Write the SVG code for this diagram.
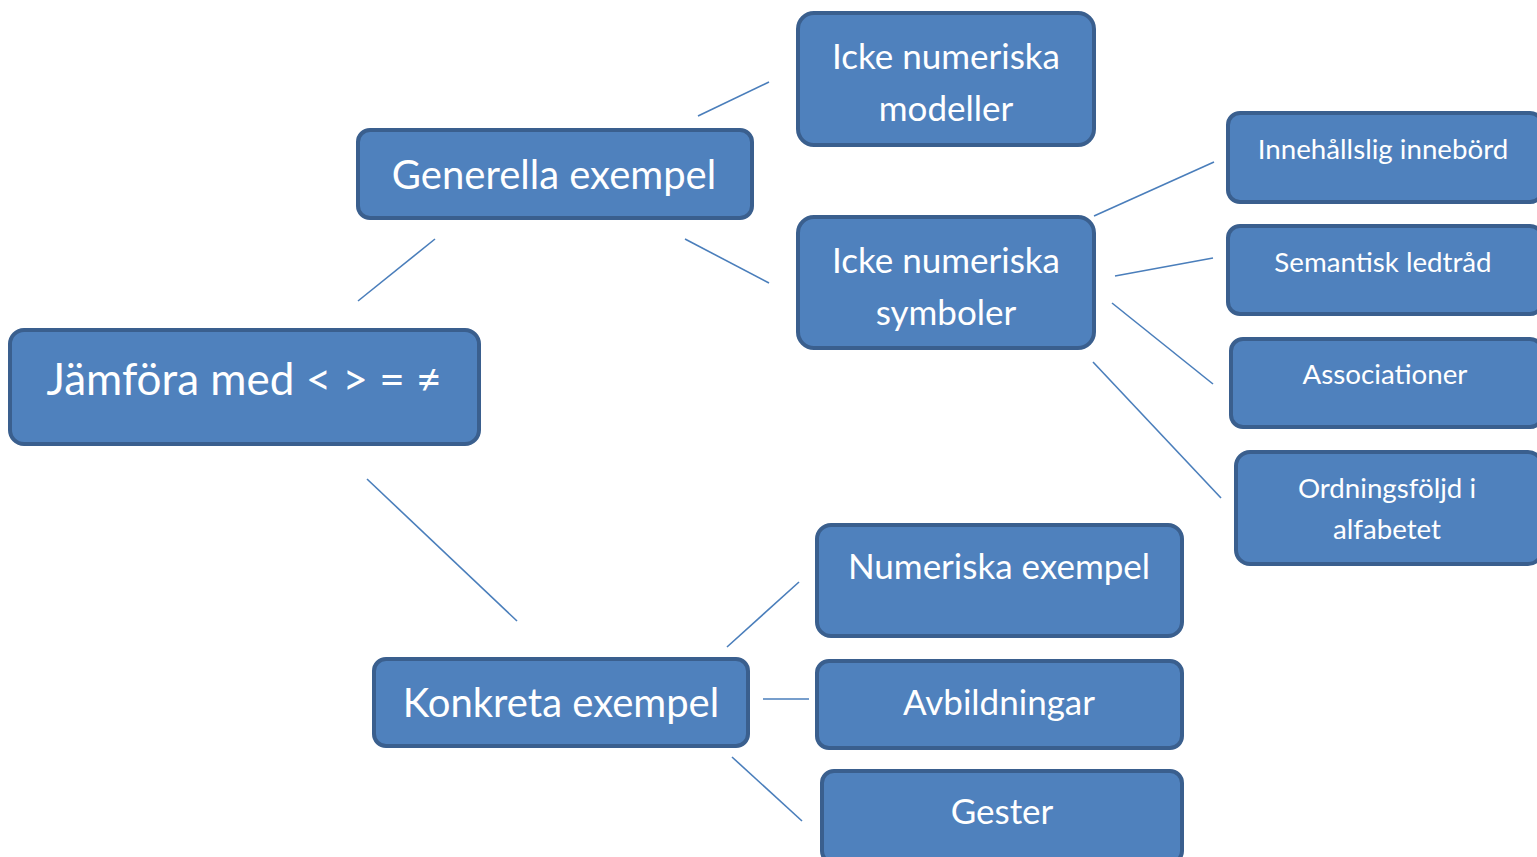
<svg xmlns="http://www.w3.org/2000/svg" width="1537" height="857" viewBox="0 0 1537 857">
<style>
.box{fill:#4f81bd;stroke:#3a5f8e;stroke-width:4}
.t{fill:#fff;font-family:Lato,"Open Sans","Liberation Sans",sans-serif;text-anchor:middle}
.c{stroke:#4a7ebb;stroke-width:1.6;fill:none}
</style>
<rect width="1537" height="857" fill="#fff"/>
<g id="connectors">
<line class="c" x1="698" y1="116" x2="769" y2="82"/>
<line class="c" x1="685" y1="239" x2="769" y2="283"/>
<line class="c" x1="358" y1="301" x2="435" y2="239"/>
<line class="c" x1="367" y1="479" x2="517" y2="621"/>
<line class="c" x1="1094" y1="216" x2="1214" y2="162"/>
<line class="c" x1="1115" y1="276" x2="1213" y2="258"/>
<line class="c" x1="1112" y1="303" x2="1213" y2="384"/>
<line class="c" x1="1093" y1="362" x2="1221" y2="498"/>
<line class="c" x1="727" y1="647" x2="799" y2="582"/>
<line class="c" x1="763" y1="699" x2="809" y2="699"/>
<line class="c" x1="732" y1="757" x2="802" y2="821"/>
</g>
<g id="jamfora"><rect class="box" x="10" y="330" width="469" height="114" rx="14"/><text class="t" x="244" y="395" font-size="44">Jämföra med &lt; &gt; = ≠</text></g>
<g id="generella"><rect class="box" x="358" y="130" width="394" height="88" rx="12"/><text class="t" x="554" y="189" font-size="40">Generella exempel</text></g>
<g id="modeller"><rect class="box" x="798" y="13" width="296" height="132" rx="16"/><text class="t" x="946" y="69" font-size="35">Icke numeriska</text><text class="t" x="946" y="121" font-size="35">modeller</text></g>
<g id="symboler"><rect class="box" x="798" y="217" width="296" height="131" rx="16"/><text class="t" x="946" y="273" font-size="35">Icke numeriska</text><text class="t" x="946" y="325" font-size="35">symboler</text></g>
<g id="innehall"><rect class="box" x="1228" y="113" width="314" height="89" rx="12"/><text class="t" x="1383" y="159" font-size="27.7">Innehållslig innebörd</text></g>
<g id="semantisk"><rect class="box" x="1228" y="226" width="314" height="88" rx="12"/><text class="t" x="1383" y="272" font-size="27.7">Semantisk ledtråd</text></g>
<g id="assoc"><rect class="box" x="1231" y="339" width="311" height="88" rx="12"/><text class="t" x="1385" y="384" font-size="27.7">Associationer</text></g>
<g id="ordning"><rect class="box" x="1236" y="452" width="306" height="112" rx="14"/><text class="t" x="1387" y="498" font-size="27.7">Ordningsföljd i</text><text class="t" x="1387" y="539" font-size="27.7">alfabetet</text></g>
<g id="numeriska"><rect class="box" x="817" y="525" width="365" height="111" rx="14"/><text class="t" x="999" y="579" font-size="35">Numeriska exempel</text></g>
<g id="avbild"><rect class="box" x="817" y="661" width="365" height="87" rx="12"/><text class="t" x="999" y="715" font-size="35">Avbildningar</text></g>
<g id="gester"><rect class="box" x="822" y="771" width="360" height="92" rx="12"/><text class="t" x="1002" y="824" font-size="35">Gester</text></g>
<g id="konkreta"><rect class="box" x="374" y="659" width="374" height="87" rx="12"/><text class="t" x="561" y="717" font-size="40">Konkreta exempel</text></g>
</svg>
